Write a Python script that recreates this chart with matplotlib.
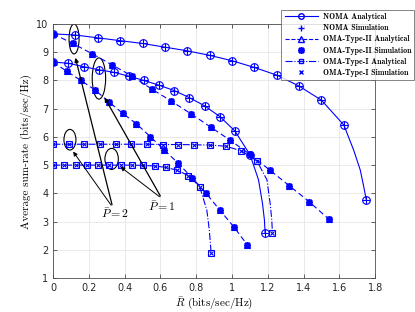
import matplotlib
matplotlib.use('Agg')
import matplotlib.pyplot as plt
from matplotlib.patches import Ellipse

plt.rcParams['mathtext.fontset'] = 'cm'
plt.rcParams['axes.unicode_minus'] = False

# NOMA, P=2 (markers) and extra points read along the curved tail
noma2_r = [0, 0.125, 0.25, 0.375, 0.5, 0.625, 0.75, 0.875, 1.0, 1.125, 1.25, 1.375, 1.5, 1.625, 1.75]
noma2_s = [9.65, 9.61, 9.51, 9.41, 9.31, 9.18, 9.05, 8.89, 8.70, 8.46, 8.19, 7.80, 7.30, 6.42, 3.78]
noma2_tail_r = [1.68, 1.717, 1.736]
noma2_tail_s = [5.53, 4.82, 4.24]

# NOMA, P=1
noma1_r = [0, 0.085, 0.17, 0.254, 0.339, 0.424, 0.508, 0.593, 0.678, 0.762, 0.847, 0.932, 1.016, 1.101, 1.185]
noma1_s = [8.65, 8.61, 8.49, 8.38, 8.29, 8.15, 8.0, 7.83, 7.64, 7.39, 7.10, 6.72, 6.21, 5.36, 2.58]
noma1_tail_r = [1.148, 1.17, 1.181]
noma1_tail_s = [4.48, 3.65, 3.06]

# OMA-Type-II, P=2
oma2_p2_r = [0, 0.11, 0.22, 0.33, 0.44, 0.55, 0.66, 0.77, 0.88, 0.99, 1.10, 1.21, 1.32, 1.43, 1.54]
oma2_p2_s = [9.65, 9.31, 8.94, 8.55, 8.16, 7.70, 7.27, 6.82, 6.35, 5.88, 5.38, 4.83, 4.27, 3.71, 3.09]

# OMA-Type-II, P=1
oma2_p1_r = [0, 0.078, 0.155, 0.233, 0.31, 0.388, 0.466, 0.543, 0.621, 0.698, 0.776, 0.853, 0.931, 1.009, 1.086]
oma2_p1_s = [8.65, 8.32, 8.0, 7.67, 7.25, 6.84, 6.46, 6.01, 5.54, 5.07, 4.56, 4.02, 3.41, 2.82, 2.17]

# OMA-Type-I, P=2
oma1_p2_r = [0, 0.088, 0.175, 0.263, 0.35, 0.438, 0.526, 0.613, 0.70, 0.788, 0.876, 0.964, 1.051, 1.139, 1.226]
oma1_p2_s = [5.74, 5.74, 5.74, 5.74, 5.74, 5.74, 5.74, 5.73, 5.73, 5.72, 5.71, 5.67, 5.51, 5.15, 2.60]
oma1_p2_tail_r = [1.195, 1.213, 1.222]
oma1_p2_tail_s = [4.48, 3.65, 3.06]

# OMA-Type-I, P=1
oma1_p1_r = [0, 0.063, 0.126, 0.189, 0.252, 0.315, 0.378, 0.441, 0.504, 0.567, 0.63, 0.693, 0.756, 0.819, 0.883]
oma1_p1_s = [5.0, 5.0, 5.0, 5.0, 5.0, 5.0, 5.0, 5.0, 4.99, 4.97, 4.92, 4.82, 4.63, 4.24, 1.90]
oma1_p1_tail_r = [0.859, 0.873]
oma1_p1_tail_s = [3.41, 2.70]

blue = (0, 0, 1)


def with_tail(r, s, tr, ts):
    # put the extra curve points between the last two markers
    return r[:-1] + tr + r[-1:], s[:-1] + ts + s[-1:]


fig = plt.figure(figsize=(4.15, 3.12), dpi=100)
ax = fig.add_axes([0.128, 0.109, 0.776, 0.814])

ms = 4
lw = 0.8

# analytical lines
x, y = with_tail(noma2_r, noma2_s, noma2_tail_r, noma2_tail_s)
ax.plot(x, y, '-', color=blue, lw=lw)
x, y = with_tail(noma1_r, noma1_s, noma1_tail_r, noma1_tail_s)
ax.plot(x, y, '-', color=blue, lw=lw)
ax.plot(oma2_p2_r, oma2_p2_s, '--', color=blue, lw=lw, dashes=(5, 3))
ax.plot(oma2_p1_r, oma2_p1_s, '--', color=blue, lw=lw, dashes=(5, 3))
x, y = with_tail(oma1_p2_r, oma1_p2_s, oma1_p2_tail_r, oma1_p2_tail_s)
ax.plot(x, y, '-.', color=blue, lw=lw)
x, y = with_tail(oma1_p1_r, oma1_p1_s, oma1_p1_tail_r, oma1_p1_tail_s)
ax.plot(x, y, '-.', color=blue, lw=lw)

# analytical markers
for r, s in [(noma2_r, noma2_s), (noma1_r, noma1_s)]:
    ax.plot(r, s, 'o', color=blue, mfc='none', ms=ms + 1.5, mew=0.8)
for r, s in [(oma2_p2_r, oma2_p2_s), (oma2_p1_r, oma2_p1_s)]:
    ax.plot(r, s, '^', color=blue, mfc='none', ms=ms + 1, mew=0.8)
for r, s in [(oma1_p2_r, oma1_p2_s), (oma1_p1_r, oma1_p1_s)]:
    ax.plot(r, s, 's', color=blue, mfc='none', ms=ms, mew=0.8)

# simulation markers
for r, s in [(noma2_r, noma2_s), (noma1_r, noma1_s)]:
    ax.plot(r, s, '+', color=blue, ms=ms + 1.5, mew=0.8)
for r, s in [(oma2_p2_r, oma2_p2_s), (oma2_p1_r, oma2_p1_s)]:
    ax.plot(r, s, marker=(8, 2, 0), ls='none', color=blue, ms=ms + 1, mew=1.2)
for r, s in [(oma1_p2_r, oma1_p2_s), (oma1_p1_r, oma1_p1_s)]:
    ax.plot(r, s, 'x', color=blue, ms=ms - 1, mew=0.8)

# legend handles
h = [
    plt.Line2D([], [], color=blue, ls='-', lw=lw, marker='o', mfc='none', ms=ms),
    plt.Line2D([], [], color=blue, ls='none', marker='+', ms=ms + 1),
    plt.Line2D([], [], color=blue, ls='--', lw=lw, marker='^', mfc='none', ms=ms),
    plt.Line2D([], [], color=blue, ls='none', marker=(8, 2, 0), ms=ms + 1, mew=1.2),
    plt.Line2D([], [], color=blue, ls='-.', lw=lw, marker='s', mfc='none', ms=ms - 0.5),
    plt.Line2D([], [], color=blue, ls='none', marker='x', ms=ms - 1),
]
labels = ['NOMA Analytical', 'NOMA Simulation', 'OMA-Type-II Analytical',
          'OMA-Type-II Simulation', 'OMA-Type-I Analytical', 'OMA-Type-I Simulation']
leg = fig.legend(h, labels, loc='upper right', bbox_to_anchor=(0.998, 0.968),
                 bbox_transform=fig.transFigure, fancybox=False, edgecolor='0.3',
                 prop={'family': 'cmb10', 'size': 5.7},
                 handlelength=4.2, labelspacing=0.4, borderpad=0.4, handletextpad=0.6,
                 borderaxespad=0)
leg.get_frame().set_linewidth(0.6)

# ellipses and annotations
ells = [(0.117, 9.47, 0.056, 1.06), (0.256, 8.07, 0.075, 1.46),
        (0.094, 5.90, 0.067, 0.73), (0.327, 5.22, 0.075, 0.745)]
for cx, cy, w, hgt in ells:
    ax.add_patch(Ellipse((cx, cy), w, hgt, fill=False, ec='k', lw=0.8))

arrow = dict(arrowstyle='-|>', color='k', lw=0.7, mutation_scale=6)
ax.annotate('', xy=(0.121, 8.90), xytext=(0.333, 3.50), arrowprops=dict(arrow, lw=0.9))
ax.annotate('', xy=(0.103, 5.56), xytext=(0.333, 3.50), arrowprops=arrow)
ax.annotate('', xy=(0.28, 7.48), xytext=(0.607, 3.82), arrowprops=dict(arrow, lw=0.9))
ax.annotate('', xy=(0.364, 5.0), xytext=(0.607, 3.82), arrowprops=arrow)
ax.text(0.345, 3.26, r'$\bar{P}=2$', ha='center', va='center', fontsize=8.5)
ax.text(0.607, 3.52, r'$\bar{P}=1$', ha='center', va='center', fontsize=8.5)

ax.set_xlim(0, 1.8)
ax.set_ylim(1, 10)
ax.set_xticks([0, 0.2, 0.4, 0.6, 0.8, 1, 1.2, 1.4, 1.6, 1.8])
ax.set_xticklabels(['0', '0.2', '0.4', '0.6', '0.8', '1', '1.2', '1.4', '1.6', '1.8'])
ax.set_yticks(range(1, 11))
ax.grid(True, color='0.9', lw=0.6)
ax.set_axisbelow(True)
ax.tick_params(labelsize=7, length=3, width=0.5, direction='in', top=True, right=True, colors='0.15')
for sp in ax.spines.values():
    sp.set_linewidth(0.6)
    sp.set_color('0.3')

ax.set_xlabel(r'$\bar{R}$ (bits/sec/Hz)', family='cmr10', fontsize=8, labelpad=2)
ax.set_ylabel('Average sum-rate (bits/sec/Hz)', family='cmr10', fontsize=8, labelpad=3)

fig.savefig('out.png', dpi=100)
